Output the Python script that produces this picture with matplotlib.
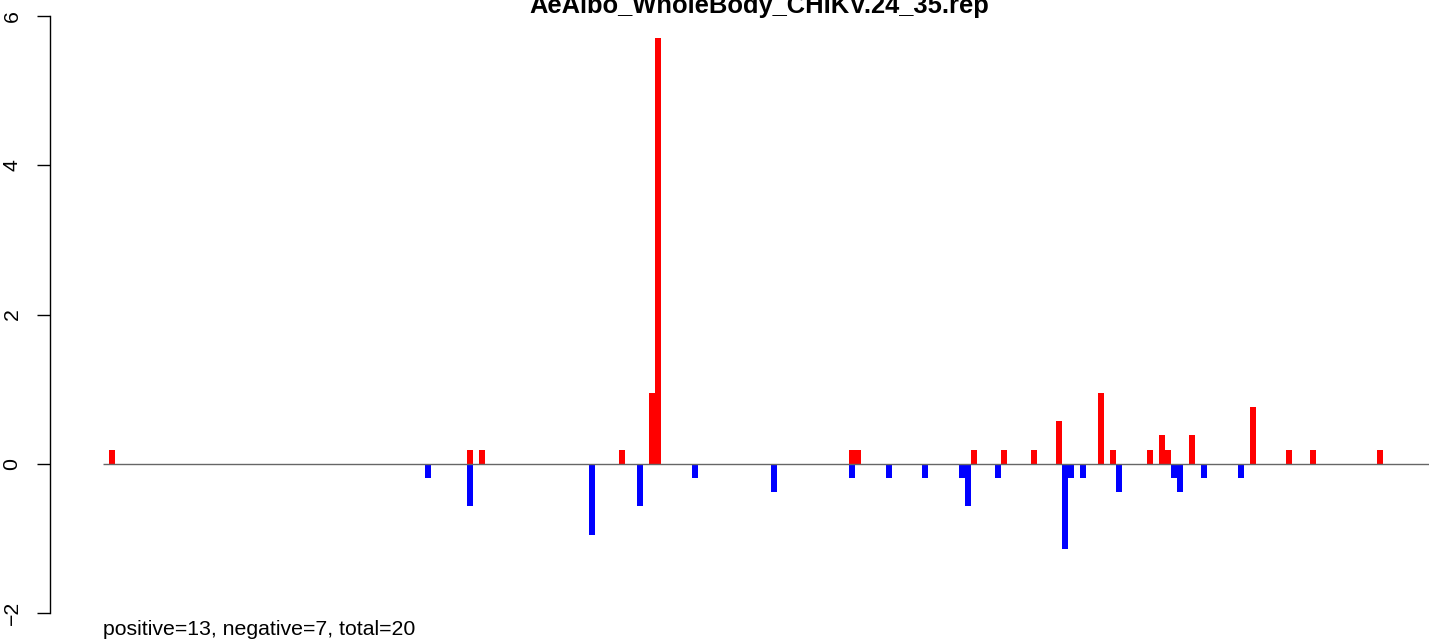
import matplotlib

matplotlib.use("Agg")
import matplotlib.pyplot as plt

TITLE = "AeAlbo_WholeBody_CHIKV.24_35.rep"
FOOTER = "positive=13, negative=7, total=20"

# bin positions (left edge) and heights
POS_X = [1.0, 60.4, 62.4, 85.6, 90.5, 91.5, 123.7, 124.7, 143.9, 148.9, 153.9,
         158.0, 165.0, 167.0, 173.1, 175.1, 176.1, 180.1, 190.2, 196.2, 200.2, 211.3]
POS_Y = [0.19, 0.19, 0.19, 0.19, 0.95, 5.71, 0.19, 0.19, 0.19, 0.19, 0.19,
         0.57, 0.95, 0.19, 0.19, 0.38, 0.19, 0.38, 0.76, 0.19, 0.19, 0.19]

NEG_X = [53.4, 60.4, 80.6, 88.6, 97.7, 110.8, 123.7, 129.9, 135.8, 142.0,
         143.0, 147.9, 159.0, 160.0, 162.0, 168.0, 177.1, 178.1, 182.1, 188.2]
NEG_Y = [-0.19, -0.57, -0.95, -0.57, -0.19, -0.38, -0.19, -0.19, -0.19, -0.19,
         -0.57, -0.19, -1.14, -0.19, -0.19, -0.38, -0.19, -0.38, -0.19, -0.19]

Y_TICKS = [-2, 0, 2, 4, 6]
N_BINS = 220


def main() -> None:
    plt.rcParams["font.family"] = ["Liberation Sans", "DejaVu Sans"]
    W, H = 1429, 641
    fig = plt.figure(figsize=(W / 100, H / 100), dpi=100)
    ax = fig.add_axes([50 / W, 28 / H, 1379 / W, 597 / H])

    ax.bar(POS_X, POS_Y, width=1.0, align="edge", color="#ff0000", linewidth=0)
    ax.bar(NEG_X, NEG_Y, width=1.0, align="edge", color="#0000ff", linewidth=0)
    ax.hlines(0, 0, N_BINS, color="#666666", linewidth=1.0, zorder=3)

    ax.set_xlim(-53 / 6.03, 1326 / 6.03)
    ax.set_ylim(-2, 6)
    for side in ("top", "right", "bottom"):
        ax.spines[side].set_visible(False)
    ax.spines["left"].set_linewidth(1.0)
    ax.set_xticks([])
    ax.set_yticks(Y_TICKS)
    # R draws a real minus sign on the tick labels
    ax.set_yticklabels([str(t).replace("-", "\u2212") for t in Y_TICKS], rotation=90, va="center")
    ax.tick_params(axis="y", length=9.5, width=1.0, pad=11, labelsize=15.3)

    # the title sits partly above the top edge, as in the reference
    fig.text(759 / W, 1 - 13 / H, TITLE, ha="center", va="baseline",
             fontsize=18.4, fontweight="bold")
    fig.text(103 / W, 1 - 635 / H, FOOTER, ha="left", va="baseline", fontsize=15.3)

    fig.savefig("out.png", dpi=100)
    plt.close(fig)


if __name__ == "__main__":
    main()
